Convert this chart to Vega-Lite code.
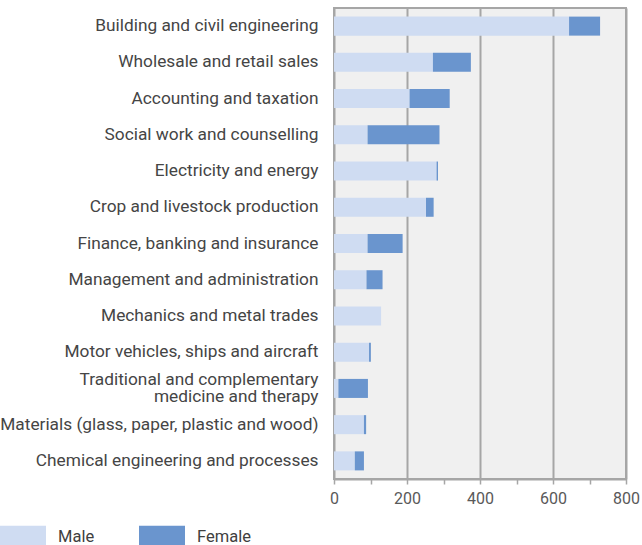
{
  "$schema": "https://vega.github.io/schema/vega-lite/v6.json",
  "width": 292,
  "height": 471,
  "autosize": {"type": "none"},
  "padding": {"left": 334, "top": 8, "right": 16, "bottom": 66},
  "background": "#ffffff",
  "config": {
    "view": {"fill": "#f0f0f0", "stroke": "#a6a6a6", "strokeWidth": 2},
    "font": "Roboto"
  },
  "data": {
    "values": [
      {"field": "Building and civil engineering", "sex": "Male", "value": 644},
      {"field": "Building and civil engineering", "sex": "Female", "value": 85},
      {"field": "Wholesale and retail sales", "sex": "Male", "value": 271},
      {"field": "Wholesale and retail sales", "sex": "Female", "value": 104},
      {"field": "Accounting and taxation", "sex": "Male", "value": 207},
      {"field": "Accounting and taxation", "sex": "Female", "value": 110},
      {"field": "Social work and counselling", "sex": "Male", "value": 92},
      {"field": "Social work and counselling", "sex": "Female", "value": 197},
      {"field": "Electricity and energy", "sex": "Male", "value": 281},
      {"field": "Electricity and energy", "sex": "Female", "value": 4},
      {"field": "Crop and livestock production", "sex": "Male", "value": 252},
      {"field": "Crop and livestock production", "sex": "Female", "value": 21},
      {"field": "Finance, banking and insurance", "sex": "Male", "value": 92},
      {"field": "Finance, banking and insurance", "sex": "Female", "value": 96},
      {"field": "Management and administration", "sex": "Male", "value": 89},
      {"field": "Management and administration", "sex": "Female", "value": 44},
      {"field": "Mechanics and metal trades", "sex": "Male", "value": 129},
      {"field": "Mechanics and metal trades", "sex": "Female", "value": 0},
      {"field": "Motor vehicles, ships and aircraft", "sex": "Male", "value": 96},
      {"field": "Motor vehicles, ships and aircraft", "sex": "Female", "value": 5},
      {"field": "Traditional and complementary|medicine and therapy", "sex": "Male", "value": 12},
      {"field": "Traditional and complementary|medicine and therapy", "sex": "Female", "value": 81},
      {"field": "Materials (glass, paper, plastic and wood)", "sex": "Male", "value": 82},
      {"field": "Materials (glass, paper, plastic and wood)", "sex": "Female", "value": 6},
      {"field": "Chemical engineering and processes", "sex": "Male", "value": 57},
      {"field": "Chemical engineering and processes", "sex": "Female", "value": 25}
    ]
  },
  "mark": {"type": "bar"},
  "encoding": {
    "y": {
      "field": "field",
      "type": "nominal",
      "sort": null,
      "scale": {"paddingInner": 0.475, "paddingOuter": 0.2375},
      "axis": {
        "title": null,
        "ticks": false,
        "domain": false,
        "labelExpr": "split(datum.label, '|')",
        "labelFontSize": 17.3,
        "labelFontWeight": 400,
        "labelColor": "#454545",
        "labelPadding": 16,
        "labelLimit": 400,
        "labelLineHeight": 17,
        "labelOffset": {"condition": {"test": "indexof(datum.value, '|') >= 0", "value": -8.5}, "value": 0}
      }
    },
    "x": {
      "field": "value",
      "type": "quantitative",
      "stack": "zero",
      "scale": {"domain": [0, 800], "nice": false},
      "axis": {
        "title": null,
        "values": [0, 100, 200, 300, 400, 500, 600, 700, 800],
        "labelExpr": "datum.value % 200 === 0 ? datum.label : ''",
        "gridColor": "#a6a6a6",
        "gridWidth": 2,
        "gridOpacity": {"condition": {"test": "datum.value % 200 === 0", "value": 1}, "value": 0},
        "domainColor": "#a6a6a6",
        "domainWidth": 2,
        "tickColor": "#a6a6a6",
        "tickWidth": 1.5,
        "tickSize": 5,
        "labelFontSize": 16,
        "labelFontWeight": 400,
        "labelColor": "#595959",
        "labelPadding": 6,
        "labelFlush": false
      }
    },
    "color": {
      "field": "sex",
      "type": "nominal",
      "scale": {"domain": ["Male", "Female"], "range": ["#cfdcf2", "#6a95ce"]},
      "legend": {
        "title": null,
        "orient": "none",
        "direction": "horizontal",
        "legendX": -334,
        "legendY": 506,
        "symbolType": "M-1,-0.5H1V0.5H-1Z",
        "symbolSize": 2116,
        "symbolStrokeWidth": 0,
        "symbolOpacity": 1,
        "labelFontSize": 16.5,
        "labelFontWeight": 400,
        "labelColor": "#404040",
        "labelOffset": 12,
        "columnPadding": 44
      }
    },
    "order": {"field": "sex", "sort": "descending"}
  }
}
